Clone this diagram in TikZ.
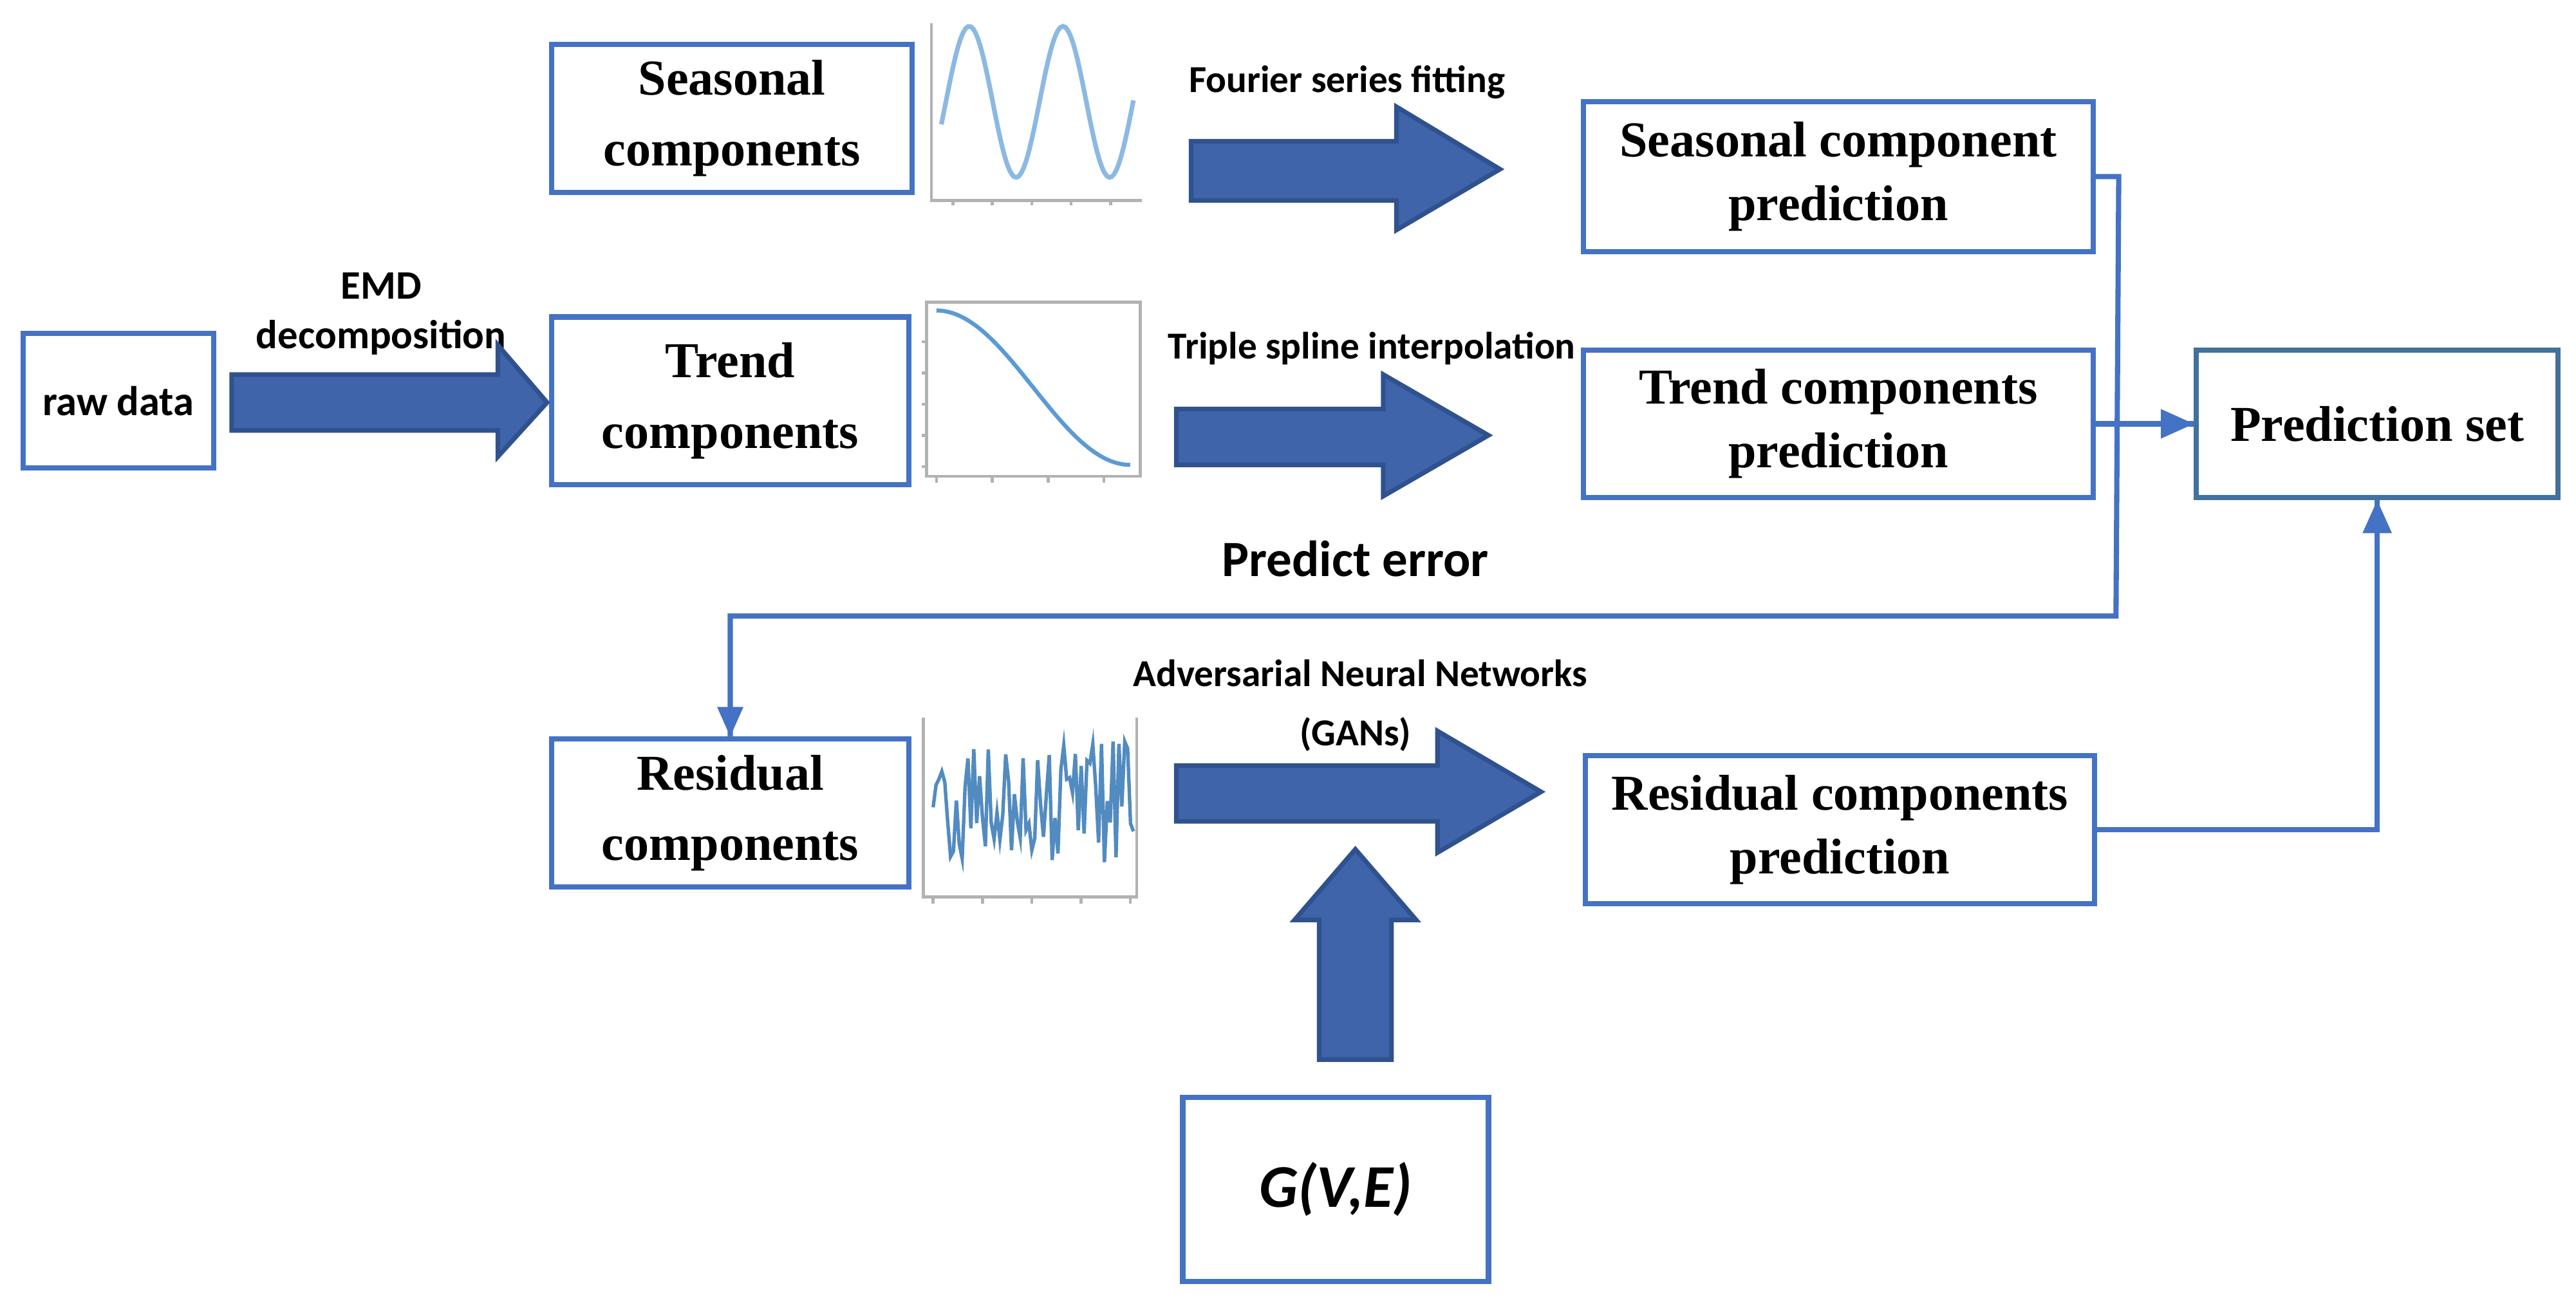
\documentclass[tikz,border=0pt]{standalone}
\usepackage{fontspec}
\setmainfont{Liberation Serif}
\newfontfamily\lbl{Carlito}
\definecolor{boxblue}{HTML}{4472C4}
\definecolor{setblue}{HTML}{41719C}
\definecolor{arrfill}{HTML}{3F64AA}
\definecolor{arrline}{HTML}{2F528F}
\definecolor{curve}{HTML}{5B9BD5}
\tikzset{
  comp/.style={draw=boxblue, line width=0.9pt, align=center, font=\fontsize{8.7}{12.2}\selectfont\bfseries,
    inner sep=0pt},
  lab/.style={font=\lbl\fontsize{6.6}{8}\selectfont\bfseries, align=center},
  big/.style={fill=arrfill, draw=arrline, line width=0.8pt},
  link/.style={draw=boxblue, line width=0.9pt},
  frame/.style={draw=gray!60, line width=0.5pt},
}
\begin{document}
\begin{tikzpicture}[x=0.01cm, y=-0.01cm]
\useasboundingbox (0,0) rectangle (1568,788);

% boxes
\node [comp, minimum width=1.16cm, minimum height=0.82cm, font=\lbl\fontsize{7.2}{9}\selectfont\bfseries] (raw) at (72,244) {raw data};
\node [comp, minimum width=2.19cm, minimum height=0.90cm] (seas) at (445.5,72) {Seasonal\\components};
\node [comp, minimum width=2.17cm, minimum height=1.02cm] (trend) at (444.5,244) {Trend\\components};
\node [comp, minimum width=2.17cm, minimum height=0.90cm] (resid) at (444.5,495) {Residual\\components};
\node [comp, minimum width=3.10cm, minimum height=0.91cm, font=\fontsize{8.7}{11}\selectfont\bfseries] (seasp) at (1119,107.5) {Seasonal component\\prediction};
\node [comp, minimum width=3.10cm, minimum height=0.90cm, font=\fontsize{8.7}{11}\selectfont\bfseries] (trendp) at (1119,258) {Trend components\\prediction};
\node [comp, minimum width=3.10cm, minimum height=0.90cm, font=\fontsize{8.7}{11}\selectfont\bfseries] (residp) at (1120,505) {Residual components\\prediction};
\node [comp, draw=setblue, minimum width=2.20cm, minimum height=0.90cm] (pset) at (1447,258) {Prediction set};
\node [comp, minimum width=1.86cm, minimum height=1.12cm, font=\lbl\fontsize{10.5}{13}\selectfont\bfseries\itshape] (gve) at (813,724) {G(V,E)};

% labels
\node [lab, font=\lbl\fontsize{7}{8.6}\selectfont\bfseries] (emd) at (232,191) {EMD\\decomposition};
\node [lab] (four) at (820,50) {Fourier series fitting};
\node [lab] (tri) at (835,212) {Triple spline interpolation};
\node [lab, font=\lbl\fontsize{8.8}{11}\selectfont\bfseries] (err) at (825,340) {Predict error};
\node [lab] (adv) at (828,410) {Adversarial Neural Networks};
\node [lab] (gans) at (825,447) {(GANs)};

% block arrows
\draw [big] (141,228) -- (303,228) -- (303,210) -- (333,245) -- (303,278) -- (303,262) -- (141,262) -- cycle;
\draw [big] (725,86) -- (850,86) -- (850,65) -- (913,103) -- (850,140) -- (850,122) -- (725,122) -- cycle;
\draw [big] (716,249) -- (842,249) -- (842,228) -- (906,265) -- (842,302) -- (842,283) -- (716,283) -- cycle;
\draw [big] (716,466) -- (875,466) -- (875,445) -- (938,482) -- (875,519) -- (875,500) -- (716,500) -- cycle;
\draw [big] (803,645) -- (803,560) -- (788,560) -- (825,517) -- (862,560) -- (847,560) -- (847,645) -- cycle;

% connectors
\coordinate (c1) at (1288,375);
\draw [link] (seasp.east) -- ++(14,0) -- (c1) -| (resid.north);
\fill [boxblue] (resid.north) -- ++(-8,-18) -- ++(16,0) -- cycle;
\draw [link] (trendp.east) -- (pset.west);
\fill [boxblue] (pset.west) -- ++(-20,-9) -- ++(0,18) -- cycle;
\draw [link] (residp.east) -| (pset.south);
\fill [boxblue] (pset.south) -- ++(-9,20) -- ++(18,0) -- cycle;

% small plots
\draw [frame] (567,14) -- (567,122) -- (695,122);
\foreach \t in {0,1,2,3,4} \draw [frame] (580+\t*24,122) -- (580+\t*24,125);
\draw [curve!70, line width=0.8pt, domain=0:1.17, samples=80] plot ({573+100*\x}, {62-46*cos(6.316*(100*\x-17))});

\draw [frame] (564,184) rectangle (694,290);
\foreach \t in {0,1,2,3} \draw [frame] (570+\t*34,290) -- (570+\t*34,294);
\foreach \t in {0,1,2,3,4} \draw [frame] (564,208+\t*19) -- (561,208+\t*19);
\draw [curve, line width=0.7pt, domain=0:1.18, samples=60] plot ({570+100*\x}, {236-47*cos(152.5*\x)});

\draw [frame] (562,437) -- (562,546) -- (692,546) -- (692,437);
\foreach \t in {0,1,2,3,4} \draw [frame] (568+\t*30,546) -- (568+\t*30,550);
\pgfmathsetseed{11}
\draw [curve!90!black, line width=0.6pt, domain=0:1.22, samples=70] plot ({568+100*\x}, {490+40*rand});
\end{tikzpicture}
\end{document}
